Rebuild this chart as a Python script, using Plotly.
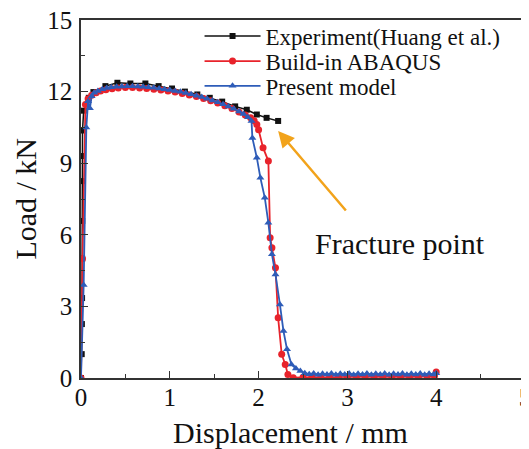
import plotly.graph_objects as go

# Experiment (Huang et al.)
exp_x = [0.0, 0.008, 0.010, 0.012, 0.013, 0.014, 0.015, 0.016, 0.017, 0.03, 0.088, 0.14, 0.275, 0.41,
         0.556, 0.725, 0.874, 1.025, 1.17, 1.31, 1.45, 1.59, 1.736, 1.867, 1.98, 2.09, 2.22]
exp_y = [0.0, 1.0, 2.26, 3.35, 5.0, 6.58, 8.25, 9.3, 10.37, 11.2, 11.74, 11.98, 12.23, 12.37,
         12.34, 12.34, 12.23, 12.13, 12.0, 11.88, 11.74, 11.58, 11.38, 11.24, 11.04, 10.9, 10.77]

# Build-in ABAQUS
abq_x = [0.0, 0.017, 0.05, 0.08, 0.12, 0.17, 0.22, 0.28, 0.35, 0.42, 0.5, 0.58, 0.66, 0.74, 0.82,
         0.9, 0.98, 1.06, 1.14, 1.22, 1.3, 1.38, 1.46, 1.54, 1.62, 1.7, 1.78, 1.85, 1.91, 1.95,
         1.98, 2.0, 2.05, 2.11, 2.13, 2.15, 2.19, 2.22, 2.26, 2.30, 2.33, 2.39,
         2.5, 2.6, 2.7, 2.8, 2.9, 3.0, 3.1, 3.2, 3.3, 3.4, 3.5, 3.6, 3.7, 3.8, 3.9, 3.98, 4.0]
abq_y = [0.0, 5.0, 11.46, 11.7, 11.85, 11.95, 12.02, 12.08, 12.12, 12.15, 12.17, 12.17, 12.15, 12.13, 12.1,
         12.07, 12.03, 11.98, 11.92, 11.86, 11.79, 11.71, 11.62, 11.52, 11.41, 11.29, 11.15, 11.02, 10.9, 10.78,
         10.62, 10.4, 9.65, 9.09, 5.88, 5.46, 4.62, 2.52, 0.99, 0.57, 0.15, 0.01,
         0.03, 0.04, 0.03, 0.05, 0.04, 0.05, 0.04, 0.06, 0.05, 0.05, 0.06, 0.05, 0.06, 0.05, 0.06, 0.08, 0.25]

# Present model
pm_x = [0.0, 0.03, 0.06, 0.08, 0.1, 0.12, 0.15, 0.19, 0.24, 0.29, 0.34, 0.4, 0.46, 0.52, 0.58, 0.64,
        0.7, 0.76, 0.82, 0.88, 0.94, 1.0, 1.06, 1.12, 1.18, 1.24, 1.3, 1.36, 1.42, 1.48, 1.54,
        1.6, 1.66, 1.72, 1.78, 1.83, 1.88, 1.92, 1.93, 1.98, 2.02, 2.07, 2.11, 2.15, 2.19, 2.24,
        2.28, 2.32, 2.37, 2.42, 2.47, 2.52, 2.57, 2.62, 2.67, 2.72, 2.77, 2.82, 2.87, 2.92, 2.97,
        3.02, 3.07, 3.12, 3.17, 3.22, 3.27, 3.32, 3.37, 3.42, 3.47, 3.52, 3.57, 3.62, 3.67, 3.72,
        3.77, 3.82, 3.87, 3.92, 3.97, 4.0]
pm_y = [0.0, 3.9, 10.5, 11.6, 11.3, 11.8, 11.95, 12.03, 12.1, 12.15, 12.18, 12.2, 12.21, 12.22, 12.22, 12.21,
        12.2, 12.18, 12.16, 12.13, 12.1, 12.07, 12.03, 11.99, 11.94, 11.89, 11.83, 11.77, 11.7, 11.63, 11.55,
        11.47, 11.38, 11.28, 11.17, 11.06, 10.93, 10.77, 10.06, 9.23, 8.39, 7.55, 6.5, 5.18, 4.34, 3.08,
        1.97, 1.2, 0.57, 0.4, 0.29, 0.2, 0.16, 0.19, 0.14, 0.18, 0.15, 0.19, 0.14, 0.18, 0.15,
        0.19, 0.14, 0.18, 0.15, 0.19, 0.14, 0.18, 0.15, 0.19, 0.14, 0.18, 0.15, 0.19, 0.14, 0.18,
        0.15, 0.19, 0.14, 0.18, 0.15, 0.2]

x_ticks = [0, 1, 2, 3, 4, 5]
y_ticks = [0, 3, 6, 9, 12, 15]

FONT = "Liberation Serif, Times New Roman, serif"
TXT = "#111111"
BLACK = "#111111"
RED = "#E8232B"
BLUE = "#2E5CB8"
ORANGE = "#F2A31B"
AX = "#333333"

fig = go.Figure()
fig.add_trace(go.Scatter(x=exp_x, y=exp_y, mode="lines+markers", name="Experiment(Huang et al.)",
                         line=dict(color=BLACK, width=1.5),
                         marker=dict(symbol="square", size=6, color=BLACK), legend="legend"))
fig.add_trace(go.Scatter(x=abq_x, y=abq_y, mode="lines+markers", name="Build-in ABAQUS",
                         line=dict(color=RED, width=1.8),
                         marker=dict(symbol="circle", size=7, color=RED), legend="legend2"))
fig.add_trace(go.Scatter(x=pm_x, y=pm_y, mode="lines+markers", name="Present model",
                         line=dict(color=BLUE, width=1.8),
                         marker=dict(symbol="triangle-up", size=7, color=BLUE), legend="legend3"))

fig.add_annotation(x=2.22, y=10.35, xref="x", yref="y", ax=69, ay=81,
                   text="", showarrow=True, arrowhead=2, arrowsize=1.3, arrowwidth=2.5,
                   arrowcolor=ORANGE)
fig.add_annotation(x=3.59, y=5.65, xref="x", yref="y", text="Fracture point", showarrow=False,
                   font=dict(family=FONT, size=30, color=TXT))
# axis titles
fig.add_annotation(x=0.471, y=-0.152, xref="paper", yref="paper", text="Displacement / mm",
                   showarrow=False, xanchor="center", yanchor="middle",
                   font=dict(family=FONT, size=30, color=TXT))
fig.add_annotation(x=-0.127, y=0.5, xref="paper", yref="paper", text="Load / kN", textangle=-90,
                   showarrow=False, xanchor="center", yanchor="middle",
                   font=dict(family=FONT, size=30, color=TXT))

axis_common = dict(showline=True, linecolor=AX, linewidth=1.5, mirror=True,
                   ticks="inside", ticklen=7, tickwidth=1.2, tickcolor=AX,
                   showgrid=False, zeroline=False, automargin=False,
                   ticklabeloverflow="allow",
                   tickfont=dict(family=FONT, size=25, color=TXT))
fig.update_xaxes(range=[0, 5], tickvals=x_ticks, ticktext=[str(v) for v in x_ticks],
                 minor=dict(ticks="inside", ticklen=4, tickcolor=AX, dtick=0.5, tick0=0),
                 ticklabelstandoff=-4, **axis_common)
fig.update_yaxes(range=[0, 15], tickvals=y_ticks, ticktext=[str(v) for v in y_ticks],
                 minor=dict(ticks="inside", ticklen=4, tickcolor=AX, dtick=1.5, tick0=0),
                 ticklabelstandoff=2, **axis_common)

leg_common = dict(x=0.267, xanchor="left", yanchor="middle", bgcolor="rgba(0,0,0,0)", borderwidth=0,
                  font=dict(family=FONT, size=23, color=TXT), itemwidth=56)
# page body has an 8px margin, so the figure is sized to fit the 529x449 window
fig.update_layout(width=521, height=441, margin=dict(l=72.5, r=3.5, t=12, b=71),
                  paper_bgcolor="white", plot_bgcolor="white",
                  font=dict(family=FONT, color=TXT),
                  legend=dict(y=0.955, **leg_common),
                  legend2=dict(y=0.885, **leg_common),
                  legend3=dict(y=0.816, **leg_common),
                  showlegend=True)

fig.write_html("out.html")
